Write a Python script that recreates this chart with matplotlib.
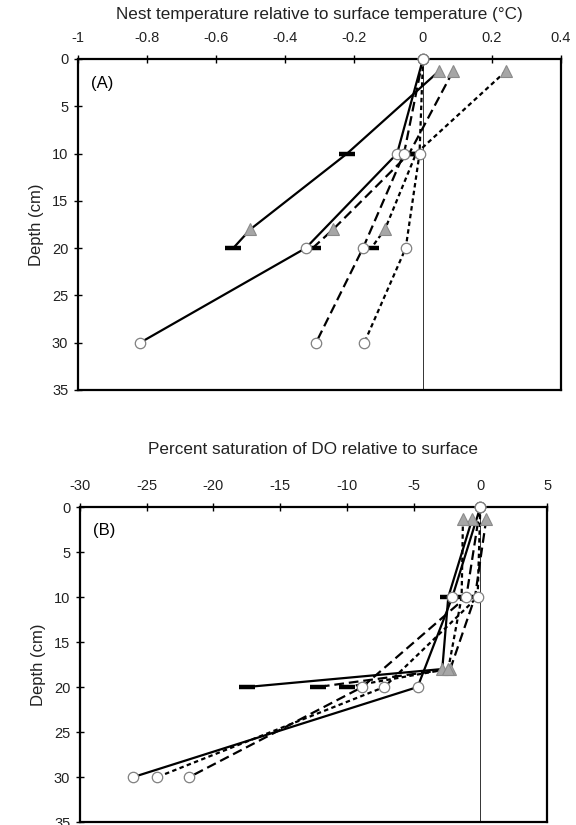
import numpy as np
import matplotlib.pyplot as plt

plt.rcParams["font.family"] = ["Liberation Sans", "DejaVu Sans"]
plt.rcParams["axes.unicode_minus"] = False
plt.rcParams["lines.scale_dashes"] = False

# depths (cm): profile points (circles) and nest points (triangle / bar)
DEPTH_PROFILE = [0, 10, 20, 30]
DEPTH_NEST = [1.3, 10, 18, 20]
NEST_MARKERS = ["^", "_", "^", "_"]

# panel A: nest temperature relative to surface temperature (°C)
TEMP_PROFILE_SOLID = [0, -0.075, -0.34, -0.82]
TEMP_PROFILE_LONG = [0, -0.055, -0.174, -0.31]
TEMP_PROFILE_SHORT = [0, -0.01, -0.05, -0.17]
TEMP_NEST_SOLID = [0.046, -0.22, -0.50, -0.55]
TEMP_NEST_LONG = [0.087, -0.04, -0.26, -0.32]
TEMP_NEST_SHORT = [0.24, -0.02, -0.11, -0.15]

# panel B: percent saturation of DO relative to surface
DO_PROFILE_SOLID = [0, -2.1, -4.7, -26.0]
DO_PROFILE_LONG = [0, -1.05, -8.85, -21.8]
DO_PROFILE_SHORT = [0, -0.2, -7.2, -24.2]
DO_NEST_SOLID = [-0.6, -2.4, -2.85, -17.5]
DO_NEST_LONG = [0.45, -0.4, -2.25, -12.2]
DO_NEST_SHORT = [-1.3, -1.4, -2.4, -10.0]

TEMP_TICKS = [-1, -0.8, -0.6, -0.4, -0.2, 0, 0.2, 0.4]
DO_TICKS = [-30, -25, -20, -15, -10, -5, 0, 5]
DEPTH_TICKS = [0, 5, 10, 15, 20, 25, 30, 35]

LINE_STYLES = ["-", (0, (7, 3.5)), (0, (3.2, 2.4))]
CIRC_FACE, CIRC_EDGE = "white", "#808080"
TRI_FACE, TRI_EDGE = "#a6a6a6", "#8a8a8a"


def draw_panel(ax, profiles, nests, ticks, tag):
    ax.axvline(0, color="#333333", lw=0.7, zorder=1)
    for ls, xs in zip(LINE_STYLES, profiles):
        ax.plot(xs, DEPTH_PROFILE, color="black", lw=1.6, ls=ls, zorder=2)
    for ls, xs in zip(LINE_STYLES, nests):
        ax.plot(xs, DEPTH_NEST, color="black", lw=1.6, ls=ls, zorder=2)

    # markers
    for xs in nests:
        for x, d, m in zip(xs, DEPTH_NEST, NEST_MARKERS):
            if m == "^":
                ax.plot(x, d, marker="^", ms=8.5, mfc=TRI_FACE, mec=TRI_EDGE,
                        mew=0.8, ls="none", zorder=4, clip_on=False)
            else:
                ax.plot(x, d, marker="_", ms=11, mew=3.2, color="black",
                        ls="none", zorder=4, clip_on=False)
    for xs in profiles:
        ax.plot(xs, DEPTH_PROFILE, marker="o", ms=7.5, mfc=CIRC_FACE,
                mec=CIRC_EDGE, mew=0.9, ls="none", zorder=5, clip_on=False)

    ax.set_xlim(ticks[0], ticks[-1])
    ax.set_ylim(35, 0)
    ax.set_xticks(ticks)
    ax.set_xticklabels([f"{t:g}" for t in ticks])
    ax.set_yticks(DEPTH_TICKS)
    ax.xaxis.tick_top()
    ax.tick_params(axis="x", direction="inout", length=6, width=1,
                   labelsize=10.5, pad=7, colors="black")
    ax.tick_params(axis="y", direction="inout", length=6, width=1,
                   labelsize=10.5, pad=4, colors="black")
    for tl in ax.get_xticklabels() + ax.get_yticklabels():
        tl.set_color("#222222")
    for sp in ax.spines.values():
        sp.set_linewidth(1.6)
    ax.set_ylabel("Depth (cm)", fontsize=12, labelpad=6, color="#222222")
    ax.text(0.027, 0.925, tag, transform=ax.transAxes, fontsize=12,
            ha="left", va="center")


fig = plt.figure(figsize=(5.76, 8.25), dpi=100)
ax_a = fig.add_axes([0.1354, 0.5273, 0.8385, 0.4012])
ax_b = fig.add_axes([0.1389, 0.0036, 0.8108, 0.3818])

draw_panel(ax_a, [TEMP_PROFILE_SOLID, TEMP_PROFILE_LONG, TEMP_PROFILE_SHORT],
           [TEMP_NEST_SOLID, TEMP_NEST_LONG, TEMP_NEST_SHORT], TEMP_TICKS, "(A)")
draw_panel(ax_b, [DO_PROFILE_SOLID, DO_PROFILE_LONG, DO_PROFILE_SHORT],
           [DO_NEST_SOLID, DO_NEST_LONG, DO_NEST_SHORT], DO_TICKS, "(B)")

fig.text(0.555, 1 - 15 / 825, "Nest temperature relative to surface temperature (\u00b0C)",
         ha="center", va="center", fontsize=12.3, color="#222222")
fig.text(0.543, 1 - 450 / 825, "Percent saturation of DO relative to surface",
         ha="center", va="center", fontsize=12.3, color="#222222")

fig.savefig("out.png", dpi=100)
